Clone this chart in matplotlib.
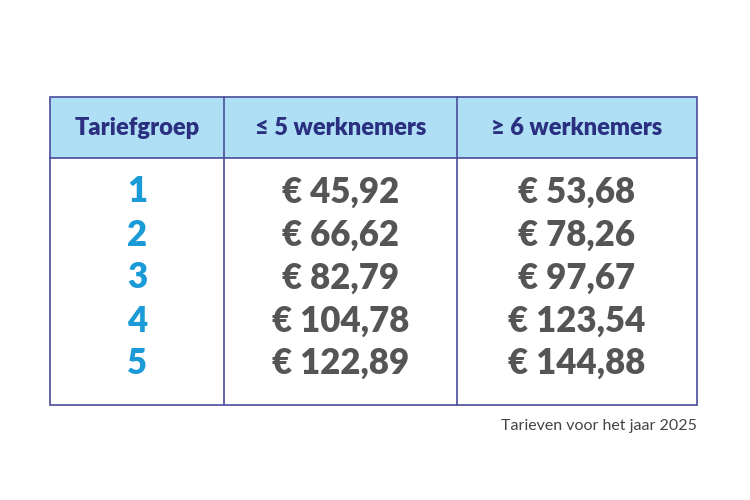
import matplotlib.pyplot as plt
from matplotlib.patches import Rectangle

headers = ["Tariefgroep", "≤ 5 werknemers", "≥ 6 werknemers"]
groups = ["1", "2", "3", "4", "5"]
small = ["€ 45,92", "€ 66,62", "€ 82,79", "€ 104,78", "€ 122,89"]
large = ["€ 53,68", "€ 78,26", "€ 97,67", "€ 123,54", "€ 144,88"]
note = "Tarieven voor het jaar 2025"

navy = "#2b2f80"
cyan = "#1a9ad6"
grey = "#555555"
border = "#4a4c99"

fig = plt.figure(figsize=(7.5, 5), dpi=100)
ax = fig.add_axes([0, 0, 1, 1])
ax.set_xlim(0, 750)
ax.set_ylim(500, 0)
ax.axis("off")
plt.rcParams["font.family"] = ["Lato", "DejaVu Sans"]

left, right, top, hbot, bot = 50, 697, 97, 158, 405
cols = [left, 224, 457, right]
ax.add_patch(Rectangle((left, top), right - left, hbot - top, facecolor="#aedff4", edgecolor="none"))
ax.add_patch(Rectangle((left, top), right - left, bot - top, facecolor="none", edgecolor=border, lw=1.2))
ax.plot([left, right], [hbot, hbot], color=border, lw=1.2)
for x in cols[1:3]:
    ax.plot([x, x], [top, bot], color=border, lw=1.2)

centers = [(cols[i] + cols[i + 1]) / 2 for i in range(3)]
for c, h in zip(centers, headers):
    ax.text(c, 128, h, ha="center", va="center", fontsize=17, fontweight="heavy", color=navy)

row_y = [192, 235, 278, 321, 363]
for y, g, a, b in zip(row_y, groups, small, large):
    ax.text(centers[0], y, g, ha="center", va="center", fontsize=25, fontweight="heavy", color=cyan)
    ax.text(centers[1], y, a, ha="center", va="center", fontsize=25, fontweight="heavy", color=grey)
    ax.text(centers[2], y, b, ha="center", va="center", fontsize=25, fontweight="heavy", color=grey)

ax.text(right, 426, note, ha="right", va="center", fontsize=11.5, color="#444444")

fig.savefig("out.png")
